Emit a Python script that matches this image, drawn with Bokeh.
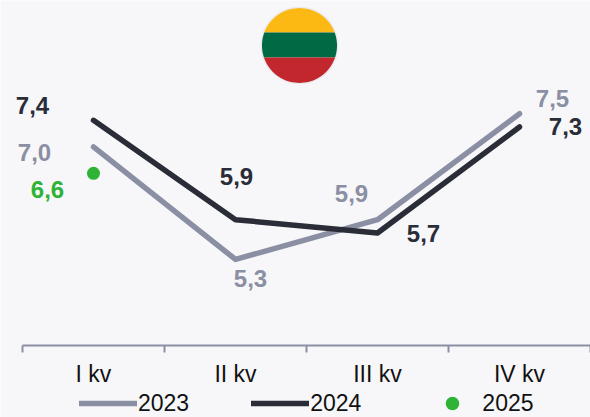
import numpy as np
from bokeh.embed import file_html
from bokeh.resources import INLINE
from bokeh.plotting import figure
from bokeh.models import ColumnDataSource, FixedTicker, Legend, LegendItem, LinearAxis, Range1d
from bokeh.core.properties import value

categories = ["I kv", "II kv", "III kv", "IV kv"]
y2023 = [7.0, 5.3, 5.9, 7.5]
y2024 = [7.4, 5.9, 5.7, 7.3]
y2025 = [6.6]
labels2023 = ["7,0", "5,3", "5,9", "7,5"]
labels2024 = ["7,4", "5,9", "5,7", "7,3"]
labels2025 = ["6,6"]
off2023 = ([-59, 15, -26, 33], [6, 19, -26, -15])
off2024 = ([-61, 1, 46, 46], [-15, -43, 1, 0])
off2025 = ([-46], [16])

GREY, DARK, GREEN, BG = "#8b8fa3", "#2a2d38", "#2fb336", "#f7f7fa"
WIDTH, HEIGHT = 590, 417
xpos = [0.5, 1.5, 2.5, 3.5]
YMIN, YMAX = 2.913, 9.21
AXIS_AT = 4.0
XMIN, XMAX = -0.1549, 4.0

p = figure(width=WIDTH, height=HEIGHT, output_backend="svg", toolbar_location=None,
           x_range=Range1d(XMIN, XMAX), y_range=Range1d(YMIN, YMAX),
           x_axis_location=None, y_axis_location=None,
           background_fill_color=BG, border_fill_color=BG, outline_line_color=None,
           min_border_left=0, min_border_right=0, min_border_top=0, min_border_bottom=0)
p.grid.visible = False

axis = LinearAxis(ticker=FixedTicker(ticks=xpos, minor_ticks=[0, 1, 2, 3, 4]),
                  major_label_overrides={x: c for x, c in zip(xpos, categories)},
                  fixed_location=AXIS_AT, bounds=(0, 4))
axis.axis_line_color = GREY
axis.axis_line_width = 2
axis.major_tick_line_color = None
axis.minor_tick_line_color = GREY
axis.minor_tick_line_width = 2
axis.minor_tick_out = 7
axis.minor_tick_in = 0
axis.major_tick_out = 0
axis.major_tick_in = 0
axis.major_label_standoff = 8
axis.major_label_text_font = "Liberation Sans"
axis.major_label_text_font_size = "23px"
axis.major_label_text_color = "#111111"
p.add_layout(axis, "below")

# Flag decoration, placed in pixel terms of the plot frame
fw = (XMAX - XMIN) / WIDTH
fh = (YMAX - YMIN) / HEIGHT
cx, cy, r = XMIN + 299 * fw, YMAX - 45 * fh, 37.5


def segment(top, bottom):
    ys = np.linspace(top, bottom, 40)
    half = np.sqrt(np.maximum(r * r - ys * ys, 0))
    return (np.r_[cx - half * fw, (cx + half * fw)[::-1]], np.r_[cy - ys * fh, (cy - ys * fh)[::-1]])


hw = np.linspace(-38.5, 38.5, 40)
hh = np.sqrt(np.maximum(39 ** 2 - hw ** 2, 0))
p.patch(np.r_[cx - hh * fw, (cx + hh * fw)[::-1]], np.r_[cy - hw * fh, (cy - hw * fh)[::-1]],
        fill_color="#000000", fill_alpha=0.05, line_color=None)
for top, bot, col in [(-37.5, -13, "#fdb913"), (-13, 12, "#006a44"), (12, 37.5, "#c1272d")]:
    xs, ys = segment(top, bot)
    p.patch(xs, ys, fill_color=col, line_color=None)

l23 = p.line(xpos, y2023, line_color=GREY, line_width=5.5, line_cap="round", line_join="round")
l24 = p.line(xpos, y2024, line_color=DARK, line_width=5.5, line_cap="round", line_join="round")
d25 = p.scatter(xpos[:1], y2025, size=13, marker="circle", fill_color=GREEN, line_color=None)


def labels(xv, yv, txt, off, col):
    src = ColumnDataSource(dict(x=xv, y=yv, t=txt, dx=off[0], dy=off[1]))
    p.text("x", "y", text="t", source=src, x_offset="dx", y_offset="dy", text_align="center",
           text_baseline="middle", text_color=col, text_font=value("Liberation Sans"),
           text_font_style="bold", text_font_size="24px")


labels(xpos, y2023, labels2023, off2023, GREY)
labels(xpos, y2024, labels2024, off2024, DARK)
labels(xpos[:1], y2025, labels2025, off2025, GREEN)

legend = Legend(items=[LegendItem(label="2023", renderers=[l23]),
                       LegendItem(label="2024", renderers=[l24]),
                       LegendItem(label="2025", renderers=[d25])],
                orientation="horizontal", location=(79, -3),
                glyph_width=58, glyph_height=34, label_standoff=1, spacing=62,
                padding=0, margin=0, border_line_color=None, background_fill_alpha=0,
                label_text_font="Liberation Sans", label_text_font_size="23px",
                label_text_color="#111111", label_height=20)
p.add_layout(legend, "center")

open("out.html", "w").write(file_html(p, INLINE))
